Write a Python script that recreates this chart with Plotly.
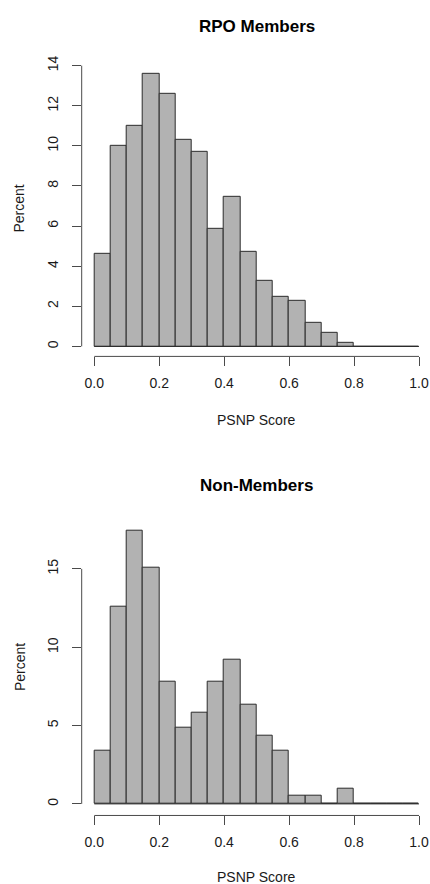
import numpy as np
import plotly.graph_objects as go

# Histogram bins for the PSNP score (width 0.05 on [0, 1])
bin_edges = np.round(np.linspace(0.0, 1.0, 21), 2)
bin_centers = (bin_edges[:-1] + bin_edges[1:]) / 2
bin_width = 0.05

# Percent of respondents falling in each bin
rpo_members = [4.6, 10.0, 11.0, 13.6, 12.6, 10.3, 9.7, 5.85, 7.45, 4.7,
               3.25, 2.45, 2.25, 1.2, 0.7, 0.2, 0.0, 0.0, 0.0, 0.0]
non_members = [3.4, 12.6, 17.45, 15.05, 7.8, 4.85, 5.8, 7.8, 9.2, 6.3,
               4.35, 3.4, 0.5, 0.5, 0.0, 0.95, 0.0, 0.0, 0.0, 0.0]

x_ticks = [0.0, 0.2, 0.4, 0.6, 0.8, 1.0]
x_ticktext = ["0.0", "0.2", "0.4", "0.6", "0.8", "1.0"]
rpo_yticks = [0, 2, 4, 6, 8, 10, 12, 14]
non_yticks = [0, 5, 10, 15]

titles = ["RPO Members", "Non-Members"]
x_title = "PSNP Score"
y_title = "Percent"

W, H = 430, 884
FONT = "Liberation Sans, Arial, Helvetica, sans-serif"
BAR_FILL = "#b2b2b2"
BAR_EDGE = "#2b2b2b"
AXIS_COL = "#4a4a4a"
TEXT_COL = "#1a1a1a"

# pixel layout of the two panels (top, bottom of plotting region)
left_px = 81.7
panels = [
    dict(top=56.2, bottom=352.8, yr=[-0.5, 14.19], yt=rpo_yticks, vals=rpo_members,
         title_y=20.7, xlab_y=417),
    dict(top=517.2, bottom=815.0, yr=[-0.74, 18.14], yt=non_yticks, vals=non_members,
         title_y=482.5, xlab_y=877),
]
x_range = [-0.0388, -0.0388 + (W - left_px) / 324.7]

fig = go.Figure()
annotations = []
shapes = []

for i, p in enumerate(panels, start=1):
    xa = "x" if i == 1 else f"x{i}"
    ya = "y" if i == 1 else f"y{i}"
    fig.add_trace(go.Bar(
        x=bin_centers, y=p["vals"], width=bin_width,
        marker=dict(color=BAR_FILL, line=dict(color=BAR_EDGE, width=1)),
        xaxis=xa, yaxis=ya, showlegend=False, hoverinfo="skip",
    ))
    dom_y = [1 - p["bottom"] / H, 1 - p["top"] / H]
    axis_common = dict(showgrid=False, zeroline=False, showline=False,
                       ticks="outside", ticklen=9, tickwidth=1, tickcolor=AXIS_COL,
                       tickfont=dict(family=FONT, size=14, color=TEXT_COL))
    fig.update_layout(**{
        ("xaxis" if i == 1 else f"xaxis{i}"): dict(
            domain=[left_px / W, 1], range=x_range, anchor=ya,
            tickvals=x_ticks, ticktext=x_ticktext, ticklabelstandoff=5, **axis_common),
        ("yaxis" if i == 1 else f"yaxis{i}"): dict(
            domain=dom_y, range=p["yr"], anchor=xa,
            tickvals=p["yt"], ticktext=[str(v) for v in p["yt"]], tickangle=-90,
            ticklabelstandoff=8, **axis_common),
    })
    # axis lines spanning first to last tick
    shapes.append(dict(type="line", xref=xa, yref=f"{ya} domain",
                       x0=x_ticks[0], x1=x_ticks[-1], y0=0, y1=0,
                       line=dict(color=AXIS_COL, width=1)))
    shapes.append(dict(type="line", xref=f"{xa} domain", yref=ya,
                       x0=0, x1=0, y0=p["yt"][0], y1=p["yt"][-1],
                       line=dict(color=AXIS_COL, width=1)))
    # baseline under empty bins
    shapes.append(dict(type="line", xref=xa, yref=ya,
                       x0=bin_edges[0], x1=bin_edges[-1], y0=0, y1=0,
                       line=dict(color=BAR_EDGE, width=1), layer="above"))
    annotations.append(dict(text=f"<b>{titles[i-1]}</b>", xref="paper", yref="paper",
                            x=256.5 / W, y=1 - p["title_y"] / H, showarrow=False,
                            xanchor="center", yanchor="middle",
                            font=dict(family=FONT, size=17, color="#000000")))
    annotations.append(dict(text=x_title, xref="paper", yref="paper",
                            x=256.5 / W, y=1 - p["xlab_y"] / H, showarrow=False,
                            xanchor="center", yanchor="middle",
                            font=dict(family=FONT, size=14, color=TEXT_COL)))
    annotations.append(dict(text=y_title, xref="paper", yref="paper", textangle=-90,
                            x=19.5 / W, y=1 - (p["top"] + p["bottom"]) / 2 / H,
                            showarrow=False, xanchor="center", yanchor="middle",
                            font=dict(family=FONT, size=14, color=TEXT_COL)))

fig.update_layout(
    width=W, height=H, margin=dict(l=0, r=0, t=0, b=0),
    paper_bgcolor="white", plot_bgcolor="white",
    bargap=0, annotations=annotations, shapes=shapes,
)

fig.write_html("out.html")
